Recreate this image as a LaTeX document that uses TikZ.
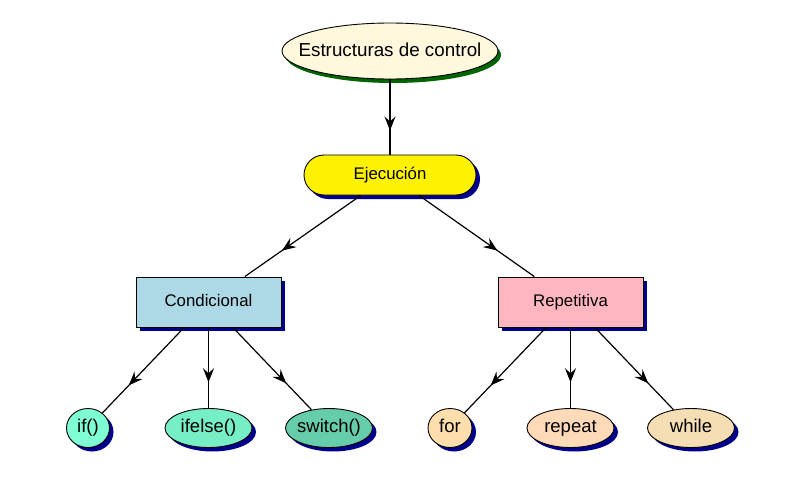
\documentclass[tikz,border=0pt]{standalone}
\usepackage{fontspec}
\setmainfont{Liberation Sans}
\usetikzlibrary{shapes.geometric,shadows,arrows.meta,decorations.markings}
\definecolor{navyshadow}{HTML}{00008B}
\definecolor{greenshadow}{HTML}{006400}
\definecolor{cream}{HTML}{FFF8DC}
\definecolor{lblue}{HTML}{ADD8E6}
\definecolor{lpink}{HTML}{FFB6C1}
\definecolor{aqua}{HTML}{7FFFD4}
\definecolor{aquamid}{HTML}{76EEC6}
\definecolor{medaqua}{HTML}{66CDAA}
\definecolor{navwhite}{HTML}{FFDEAD}
\definecolor{peach}{HTML}{FFDAB9}
\definecolor{wheatc}{HTML}{F5DEB3}
\tikzset{
  base/.style={draw=black, line width=0.9pt, inner sep=0pt, text=black},
  nshadow/.style={drop shadow={shadow xshift=4pt, shadow yshift=-4pt, fill=navyshadow, opacity=1}},
  topnode/.style={base, ellipse, inner xsep=-17pt, minimum width=216pt, minimum height=56pt, fill=cream,
    text height=14pt, text depth=4pt,
    drop shadow={shadow xshift=3pt, shadow yshift=-4pt, fill=greenshadow, opacity=1},
    font=\fontsize{18.8pt}{22pt}\selectfont},
  pillnode/.style={base, nshadow, rectangle, rounded corners=20pt, minimum width=172pt, minimum height=40pt, fill=yellow,
    text height=12.5pt, text depth=3.5pt,
    font=\fontsize{16.8pt}{20pt}\selectfont},
  boxnode/.style={base, nshadow, rectangle, minimum width=145pt, minimum height=50pt,
    text height=12.5pt, text depth=3.5pt,
    font=\fontsize{16.8pt}{20pt}\selectfont},
  leafnode/.style={base, nshadow, ellipse, inner xsep=-4pt, minimum height=39pt,
    text height=13.5pt, text depth=4pt,
    font=\fontsize{18.5pt}{22pt}\selectfont},
  conn/.style={line width=1.2pt, draw=black,
    decoration={markings, mark=at position 0.68 with {\arrow{Stealth[length=14pt,width=11pt,inset=5pt]}}},
    postaction={decorate}}
}
\begin{document}
\begin{tikzpicture}[x=1pt,y=-1pt]
\useasboundingbox (0,0) rectangle (790,479);
\node[topnode] (top) at (390,51) {Estructuras de control};
\node[pillnode] (ej) at (390,175) {Ejecución};
\node[boxnode, fill=lblue] (cond) at (208.5,302) {Condicional};
\node[boxnode, fill=lpink] (rep) at (570.5,302) {Repetitiva};
\node[leafnode, fill=aqua, minimum width=43pt] (if) at (88,428) {if()};
\node[leafnode, fill=aquamid, minimum width=87pt] (ifelse) at (208.5,428) {ifelse()};
\node[leafnode, fill=medaqua, minimum width=87pt] (switch) at (329,428) {switch()};
\node[leafnode, fill=navwhite, minimum width=44pt] (for) at (450,428) {for};
\node[leafnode, fill=peach, minimum width=87pt] (repeat) at (570.5,428) {repeat};
\node[leafnode, fill=wheatc, minimum width=87pt] (while) at (691,428) {while};
\draw[conn] (top) -- (ej);
\draw[conn] (ej) -- (cond);
\draw[conn] (ej) -- (rep);
\draw[conn] (cond) -- (if);
\draw[conn] (cond) -- (ifelse);
\draw[conn] (cond) -- (switch);
\draw[conn] (rep) -- (for);
\draw[conn] (rep) -- (repeat);
\draw[conn] (rep) -- (while);
\end{tikzpicture}
\end{document}
